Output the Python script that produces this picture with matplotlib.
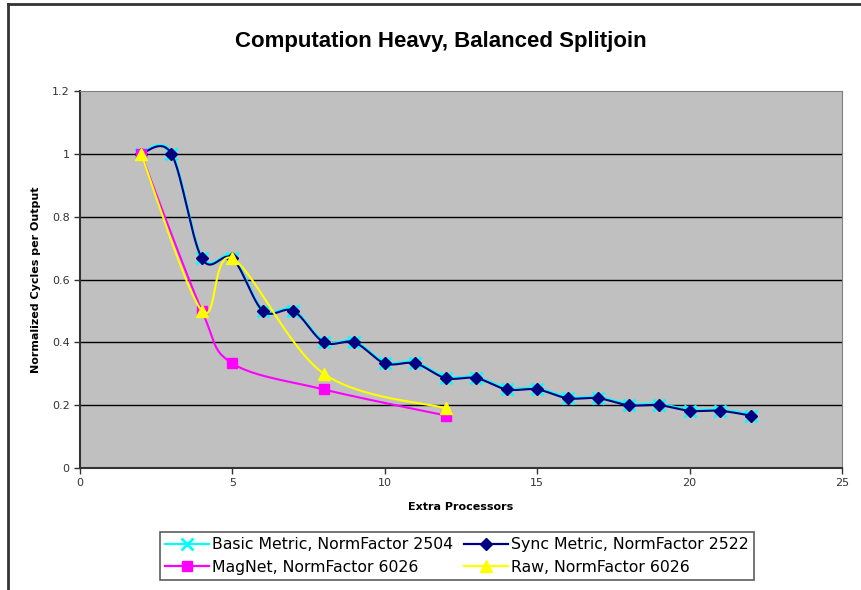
import numpy as np
import matplotlib
matplotlib.use("Agg")
import matplotlib.pyplot as plt
from matplotlib.lines import Line2D

# data
x_metric = [2, 3, 4, 5, 6, 7, 8, 9, 10, 11, 12, 13, 14, 15, 16, 17, 18, 19, 20, 21, 22]
basic = [1.0, 1.0, 0.667, 0.667, 0.5, 0.5, 0.4, 0.4, 0.333, 0.333, 0.286, 0.286,
         0.25, 0.25, 0.222, 0.222, 0.2, 0.2, 0.182, 0.182, 0.167]
sync = [1.0, 1.0, 0.667, 0.667, 0.5, 0.5, 0.4, 0.4, 0.333, 0.333, 0.286, 0.286,
        0.25, 0.25, 0.222, 0.222, 0.2, 0.2, 0.182, 0.182, 0.167]
x_mag = [2, 4, 5, 8, 12]
magnet = [1.0, 0.5, 0.333, 0.25, 0.167]
x_raw = [2, 4, 5, 8, 12]
raw = [1.0, 0.5, 0.667, 0.3, 0.19]

labels = ["Basic Metric, NormFactor 2504", "Sync Metric, NormFactor 2522",
          "MagNet, NormFactor 6026", "Raw, NormFactor 6026"]


def smooth(xs, ys, n=30):
    # excel-like smoothed line (catmull-rom bezier)
    p = np.column_stack([xs, ys]).astype(float)
    p = np.vstack([p[0], p, p[-1]])
    out = []
    for i in range(1, len(p) - 2):
        p0, p1, p2, p3 = p[i - 1], p[i], p[i + 1], p[i + 2]
        c1 = p1 + (p2 - p0) / 6.0
        c2 = p2 - (p3 - p1) / 6.0
        t = np.linspace(0, 1, n)[:, None]
        seg = ((1 - t) ** 3) * p1 + 3 * ((1 - t) ** 2) * t * c1 + 3 * (1 - t) * t ** 2 * c2 + t ** 3 * p2
        out.append(seg)
    out = np.vstack(out)
    return out[:, 0], out[:, 1]


fig = plt.figure(figsize=(8.61, 5.90), dpi=100)
ax = fig.add_axes([80 / 861, 122 / 590, 762 / 861, 377 / 590])
ax.set_facecolor("#C0C0C0")

for yv in [0.2, 0.4, 0.6, 0.8, 1.0]:
    ax.axhline(yv, color="black", lw=1, zorder=1)

sx, sy = smooth(x_metric, basic)
ax.plot(sx, sy + 0.003, color="cyan", lw=2, zorder=2)
ax.plot(x_metric, basic, ls="none", marker="x", color="cyan", ms=8, mew=2, zorder=2)

sx, sy = smooth(x_metric, sync)
ax.plot(sx, sy, color="#000080", lw=1.5, zorder=3)
ax.plot(x_metric, sync, ls="none", marker="D", color="#000080", ms=6.5, zorder=3)

sx, sy = smooth(x_mag, magnet)
ax.plot(sx, sy, color="magenta", lw=1.5, zorder=4)
ax.plot(x_mag, magnet, ls="none", marker="s", color="magenta", ms=7.5, zorder=4)

sx, sy = smooth(x_raw, raw)
ax.plot(sx, sy, color="yellow", lw=1.5, zorder=5)
ax.plot(x_raw, raw, ls="none", marker="^", color="yellow", ms=9, zorder=5)

ax.set_xlim(0, 25)
ax.set_ylim(0, 1.2)
ax.set_xticks([0, 5, 10, 15, 20, 25])
ax.set_yticks([0, 0.2, 0.4, 0.6, 0.8, 1.0, 1.2])
ax.set_yticklabels(["0", "0.2", "0.4", "0.6", "0.8", "1", "1.2"])
ax.tick_params(labelsize=8, colors="#333333", direction="out", length=4, width=1)
ax.spines["left"].set_color("#333333")
ax.spines["bottom"].set_color("#333333")
ax.spines["left"].set_linewidth(1.5)
ax.spines["bottom"].set_linewidth(1.5)
ax.spines["top"].set_color("#808080")
ax.spines["right"].set_color("#808080")

ax.set_xlabel("Extra Processors", fontsize=8, fontweight="bold", labelpad=10)
ax.set_ylabel("Normalized Cycles per Output", fontsize=8, fontweight="bold", labelpad=8)
fig.text(441 / 861, 1 - 42 / 590, "Computation Heavy, Balanced Splitjoin",
         ha="center", va="center", fontsize=16, fontweight="bold",
         family="Liberation Sans")

handles = [
    Line2D([], [], color="cyan", lw=1.6, marker="x", ms=8, mew=2),
    Line2D([], [], color="magenta", lw=1.6, marker="s", ms=7.5),
    Line2D([], [], color="#000080", lw=1.6, marker="D", ms=6.5),
    Line2D([], [], color="yellow", lw=1.6, marker="^", ms=9),
]
leg_labels = [labels[0], labels[2], labels[1], labels[3]]
leg = fig.legend(handles, leg_labels, ncol=2, loc="center",
                 bbox_to_anchor=(457 / 861, 1 - 556 / 590), fontsize=11.3,
                 frameon=True, fancybox=False, edgecolor="#333333",
                 handlelength=2.8, handletextpad=0.2, columnspacing=0.7,
                 labelspacing=0.5, borderpad=0.3)
leg.get_frame().set_linewidth(1.2)

# outer chart border (partly cropped in the picture)
fig.add_artist(Line2D([8 / 861, 1], [1 - 4 / 590, 1 - 4 / 590], color="#333333", lw=2))
fig.add_artist(Line2D([8 / 861, 8 / 861], [0, 1 - 4 / 590], color="#333333", lw=2))

fig.savefig("out.png", dpi=100)
